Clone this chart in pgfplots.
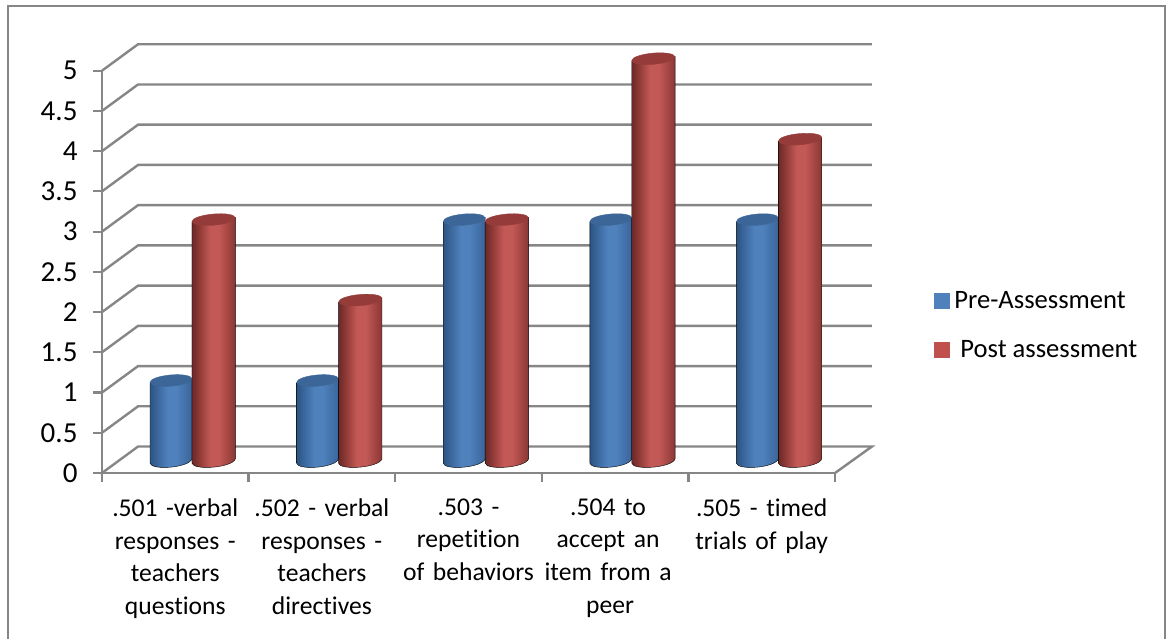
\documentclass[border=0pt]{standalone}
\usepackage{fontspec}
\setmainfont[Ligatures=NoCommon]{Carlito}
\usepackage{pgfplots}
\pgfplotsset{compat=1.18}
\usepackage{pgfplotstable}
\definecolor{gridc}{HTML}{868686}
\definecolor{bluec}{HTML}{4F81BD}
\definecolor{redc}{HTML}{C0504D}
\definecolor{bluetop}{HTML}{3C6697}
\definecolor{redtop}{HTML}{953C3A}
\definecolor{blueE}{HTML}{2C5482}
\definecolor{blueR}{HTML}{39659A}
\definecolor{redE}{HTML}{6A2A29}
\definecolor{redR}{HTML}{8A3734}
\pgfdeclarehorizontalshading{cylblue}{100bp}{color(0bp)=(blueE);color(25bp)=(blueE);color(33bp)=(blueR);color(46bp)=(bluec);color(56bp)=(bluec);color(75bp)=(blueR);color(100bp)=(blueR)}
\pgfdeclarehorizontalshading{cylred}{100bp}{color(0bp)=(redE);color(25bp)=(redE);color(32bp)=(redR);color(46bp)=(redc!95!white);color(56bp)=(redc!95!white);color(75bp)=(redR);color(100bp)=(redR)}
\newcommand\cyl[4]{% half-width, shading, top colour, height
  \shade[shading=#2] (-#1pt,9.8pt) -- (-#1pt,9.8pt-#4) .. controls (-#1pt+1pt,2.5pt-#4) and (#1pt-3pt,5pt-#4) .. (#1pt,14.2pt-#4) -- (#1pt,14.2pt) -- cycle;
  \fill[#3] (0pt,12pt) ellipse[x radius=#1pt,y radius=5.6pt,rotate=5];
}
\pgfdeclareplotmark{cylB}{\pgfmathsetlengthmacro\cylh{\cylval*80.46pt}\pgftransformshift{\pgfpoint{18pt}{0pt}}\cyl{21}{cylblue}{bluetop}{\cylh}}
\pgfdeclareplotmark{cylR}{\pgfmathsetlengthmacro\cylh{\cylval*80.46pt}\pgftransformshift{\pgfpoint{18pt}{0pt}}\cyl{21.7}{cylred}{redtop}{\cylh}}
\pgfplotstableread{
x v
0.348 1
1.348 1
2.348 3
3.348 3
4.348 3
}\pretable
\pgfplotstableread{
x v
0.639 3
1.639 2
2.639 3
3.639 5
4.639 4
}\posttable
\begin{document}
\begin{tikzpicture}[x=1pt,y=1pt]
\useasboundingbox (-102,-166) rectangle (1065,473);
\draw[gridc,line width=2pt] (-93.5,-170) -- (-93.5,466.5) -- (1062.5,466.5) -- (1062.5,-170);
\begin{axis}[
  at={(0pt,0pt)},anchor=south west,
  scale only axis,width=733pt,height=402.3pt,
  xmin=0,xmax=5,ymin=0,ymax=5,clip=false,
  axis x line=bottom,axis y line=left,
  axis line style={gridc,line width=2.4pt,-},
  xtick={0.5,1.5,2.5,3.5,4.5},
  minor xtick={0,1,2,3,4,5},
  xticklabels={{.501 -verbal\\responses -\\teachers\\questions},{.502 - verbal\\responses -\\teachers\\directives},{.503 -\\repetition\\of behaviors},{\hspace*{-14pt}.504 to\\\hspace*{-14pt}accept an\\\hspace*{-14pt}item from a\\\hspace*{-10pt}peer},{.505 - timed\\trials of play}},
  ytick={0,0.5,...,5},
  major x tick style={draw=none},
  minor x tick style={gridc,line width=2.2pt},
  y tick style={gridc,line width=2.2pt},
  tick align=outside,
  major tick length=9pt,minor tick length=9pt,
  /pgf/number format/assume math mode=true,
  xticklabel style={font=\fontsize{25.6}{32.7}\selectfont,align=center,text width=146pt,yshift=-13pt},
  yticklabel style={font=\fontsize{29}{32}\selectfont,xshift=-12pt},
  legend style={at={(832pt,184pt)},anchor=north west,draw=none,fill=none,row sep=27pt,font=\fontsize{26.6}{26.6}\selectfont,inner sep=0pt,outer sep=0pt},
  legend cell align=left,
]
\addlegendimage{legend image code/.code={\fill[bluec] (0pt,-7.5pt) rectangle (15pt,7.5pt);}}
\addlegendentry{\hspace*{3pt}Pre-Assessment}
\addlegendimage{legend image code/.code={\fill[redc] (0pt,-7.5pt) rectangle (15pt,7.5pt);}}
\addlegendentry{\hspace*{9pt}Post assessment}
% wall and floor lines
\addplot[gridc,line width=2.4pt,forget plot] coordinates {(5,0) (5.252,0.329) (0.246,0.329) (0,0)};
\addplot[gridc,line width=2.4pt,forget plot] coordinates {(0,0.5) (0.246,0.829) (5.252,0.829)};
\addplot[gridc,line width=2.4pt,forget plot] coordinates {(0,1) (0.246,1.329) (5.252,1.329)};
\addplot[gridc,line width=2.4pt,forget plot] coordinates {(0,1.5) (0.246,1.829) (5.252,1.829)};
\addplot[gridc,line width=2.4pt,forget plot] coordinates {(0,2) (0.246,2.329) (5.252,2.329)};
\addplot[gridc,line width=2.4pt,forget plot] coordinates {(0,2.5) (0.246,2.829) (5.252,2.829)};
\addplot[gridc,line width=2.4pt,forget plot] coordinates {(0,3) (0.246,3.329) (5.252,3.329)};
\addplot[gridc,line width=2.4pt,forget plot] coordinates {(0,3.5) (0.246,3.829) (5.252,3.829)};
\addplot[gridc,line width=2.4pt,forget plot] coordinates {(0,4) (0.246,4.329) (5.252,4.329)};
\addplot[gridc,line width=2.4pt,forget plot] coordinates {(0,4.5) (0.246,4.829) (5.252,4.829)};
\addplot[gridc,line width=2.4pt,forget plot] coordinates {(0,5) (0.246,5.329) (5.252,5.329)};
% cylinders
\addplot[forget plot,only marks,scatter,scatter/@pre marker code/.code={},scatter/@post marker code/.code={},mark=cylB,visualization depends on={\thisrow{v} \as \cylval}] table[x=x,y=v] {\pretable};
\addplot[forget plot,only marks,scatter,scatter/@pre marker code/.code={},scatter/@post marker code/.code={},mark=cylR,visualization depends on={\thisrow{v} \as \cylval}] table[x=x,y=v] {\posttable};
\end{axis}
\end{tikzpicture}
\end{document}
